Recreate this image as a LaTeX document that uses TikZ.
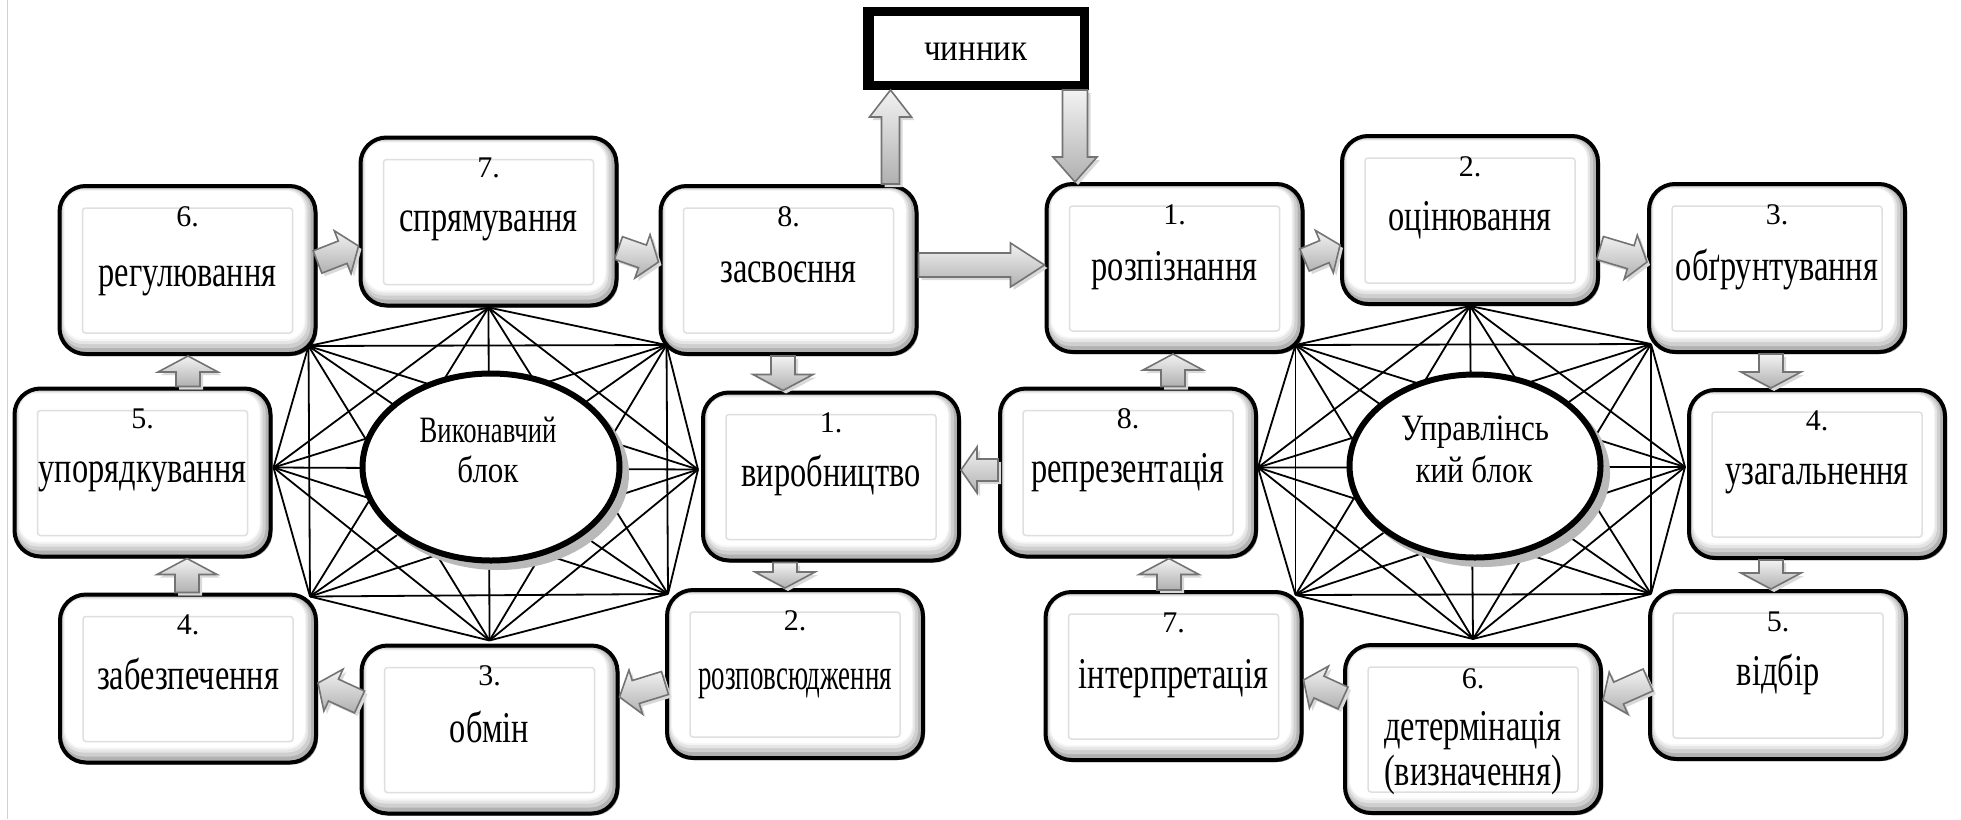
\documentclass[tikz,border=0pt]{standalone}
\usepackage{fontspec}
\setmainfont{Liberation Serif}
\newfontfamily\timesfont{Liberation Serif}
\usepackage{graphicx}
\usetikzlibrary{calc,shapes.geometric,shadows}

% block arrow: #1 from, #2 to, #3 shaft half width, #4 head half width, #5 head length
\newcommand{\blockarr}[5]{%
  \coordinate (ba-a) at (#1);
  \coordinate (ba-b) at (#2);
  \coordinate (ba-h) at ($(ba-b)!#5!(ba-a)$);
  \begin{scope}[transform canvas={shift={(3pt,-3pt)}}]
    \fill[gray!30] ($(ba-a)!#3!90:(ba-b)$) -- ($(ba-h)!#3!-90:(ba-a)$) -- ($(ba-h)!#4!-90:(ba-a)$) -- (ba-b)
      -- ($(ba-h)!#4!90:(ba-a)$) -- ($(ba-h)!#3!90:(ba-a)$) -- ($(ba-a)!#3!-90:(ba-b)$) -- cycle;
  \end{scope}
  \path[barrow] ($(ba-a)!#3!90:(ba-b)$) -- ($(ba-h)!#3!-90:(ba-a)$) -- ($(ba-h)!#4!-90:(ba-a)$) -- (ba-b)
      -- ($(ba-h)!#4!90:(ba-a)$) -- ($(ba-h)!#3!90:(ba-a)$) -- ($(ba-a)!#3!-90:(ba-b)$) -- cycle;
}
\newcommand{\bxlabel}[4]{%
  \node[numt] (#1n) at ([yshift=-42pt]#1.north) {#2};
  \node[wrdt] (#1w) at ([yshift=-#4pt]#1.north) {\scalebox{0.9}[1.22]{#3}};
}

\begin{document}
\begin{tikzpicture}[x=1pt,y=-1pt,
  bx/.style={draw=black, line width=4pt, rounded corners=26pt, fill=gray!60,
    minimum width=256pt, minimum height=168pt, inner sep=0pt,
    drop shadow={shadow xshift=2pt, shadow yshift=-2pt, fill=black, opacity=0.4},
    path picture={
      \fill[gray!38, rounded corners=22pt] ([xshift=2pt,yshift=-2pt]path picture bounding box.north west) rectangle ([xshift=-5pt,yshift=6pt]path picture bounding box.south east);
      \fill[gray!20, rounded corners=20pt] ([xshift=3pt,yshift=-3pt]path picture bounding box.north west) rectangle ([xshift=-8pt,yshift=10pt]path picture bounding box.south east);
      \fill[gray!8, rounded corners=19pt] ([xshift=4pt,yshift=-4pt]path picture bounding box.north west) rectangle ([xshift=-10pt,yshift=13pt]path picture bounding box.south east);
      \fill[white, rounded corners=18pt] ([xshift=5pt,yshift=-5pt]path picture bounding box.north west) rectangle ([xshift=-11pt,yshift=15pt]path picture bounding box.south east);
      \draw[gray!25, line width=1.5pt, rounded corners=3pt] ([xshift=23pt,yshift=-22pt]path picture bounding box.north west) rectangle ([xshift=-23pt,yshift=21pt]path picture bounding box.south east);
    }},
  el/.style={ellipse, draw=black, line width=6pt, fill=white, inner sep=0pt},
  elshadow/.style={gray!55},
  chbox/.style={draw=black, line width=9pt, fill=white, minimum width=217pt, minimum height=74pt, inner sep=0pt},
  barrow/.style={draw=black!55, line width=1.6pt, top color=gray!10, bottom color=gray!62, line join=miter},
  net/.style={black, line width=1.8pt},
  numt/.style={anchor=base, inner sep=0pt, font=\timesfont\fontsize{30}{36}\selectfont},
  wrdt/.style={anchor=base, inner sep=0pt, font=\timesfont\fontsize{36}{43}\selectfont},
  eltxt/.style={anchor=base, inner sep=0pt, font=\timesfont\fontsize{31}{37}\selectfont}
]
\useasboundingbox (0,0) rectangle (1961,819);
\fill[white] (0,0) rectangle (1961,819);
\draw[gray!35, line width=1pt] (7,0) -- (7,819);

% left block boxes
\node[bx] (b6) at (187.5,270) {};
\node[bx] (b7) at (488.5,221.5) {};
\node[bx] (b8) at (788.5,270) {};
\node[bx] (b5) at (142.5,472.5) {};
\node[bx] (b1) at (831,476.5) {};
\node[bx] (b4) at (188,678.5) {};
\node[bx] (b3) at (489.5,729.5) {};
\node[bx] (b2) at (795,674) {};
% right block boxes
\node[bx] (r1) at (1174.5,268) {};
\node[bx] (r2) at (1470,220) {};
\node[bx] (r3) at (1777,268) {};
\node[bx] (r8) at (1128,472.5) {};
\node[bx] (r4) at (1817,474) {};
\node[bx] (r5) at (1778,675) {};
\node[bx] (r7) at (1173.5,676) {};
\node[bx] (r6) at (1473,729) {};

% chinnyk
\node[chbox] (ch) at (976,48.5) {};
\draw[black, line width=2.2pt] ([xshift=9.5pt,yshift=-8pt]ch.north west) rectangle ([xshift=-7pt,yshift=6.5pt]ch.south east);
\node[anchor=base, inner sep=0pt, font=\timesfont\fontsize{33}{40}\selectfont] (cht) at (976,60) {\scalebox{1}[1.15]{чинник}};

% network points, left
\coordinate (L1) at (b7.south);
\coordinate (L2) at ([xshift=8pt,yshift=11pt]b8.south west);
\coordinate (L3) at ([xshift=-3pt,yshift=7pt]b1.west);
\coordinate (L4) at ([xshift=3pt,yshift=-6pt]b2.north west);
\coordinate (L5) at ([yshift=3pt]b3.north);
\coordinate (L6) at ([xshift=-8pt,yshift=-4pt]b4.north east);
\coordinate (L7) at ([xshift=1pt,yshift=5pt]b5.east);
\coordinate (L8) at ([xshift=-9pt,yshift=10pt]b6.south east);
% network points, right
\coordinate (R1) at (r2.south);
\coordinate (R2) at ([xshift=4pt,yshift=10pt]r3.south west);
\coordinate (R3) at ([xshift=-2pt,yshift=7pt]r4.west);
\coordinate (R4) at ([xshift=3pt,yshift=-5pt]r5.north west);
\coordinate (R5) at ([yshift=4pt]r6.north);
\coordinate (R6) at ([xshift=-8pt,yshift=-5pt]r7.north east);
\coordinate (R7) at ([yshift=5pt]r8.east);
\coordinate (R8) at ([xshift=-9pt,yshift=9pt]r1.south east);

\foreach \i in {1,...,8}{
  \foreach \j in {1,...,8}{
    \ifnum\j>\i
      \draw[net] (L\i) -- (L\j);
      \draw[net] (R\i) -- (R\j);
    \fi
  }
}

% ellipse shadows and ellipses
\fill[elshadow] (498,474) ellipse [x radius=131pt, y radius=96pt];
\fill[elshadow] (1482,473) ellipse [x radius=128pt, y radius=94pt];
\node[el, minimum width=257pt, minimum height=187pt] (e1) at (491,467) {};
\node[el, minimum width=251pt, minimum height=183pt] (e2) at (1475,466) {};
\node[eltxt] (e1a) at (488,442) {\scalebox{0.86}[1.2]{Виконавчий}};
\node[eltxt] (e1b) at (488,482) {\scalebox{1}[1.2]{блок}};
\node[eltxt] (e2a) at (1475,440) {\scalebox{1}[1.2]{Управлінсь}};
\node[eltxt] (e2b) at (1474,482) {\scalebox{1}[1.2]{кий блок}};

% box texts
\bxlabel{b6}{6.}{регулювання}{102}
\bxlabel{b7}{7.}{спрямування}{96}
\bxlabel{b8}{8.}{засвоєння}{98}
\bxlabel{b5}{5.}{упорядкування}{96}
\bxlabel{b1}{1.}{виробництво}{96}
\bxlabel{b4}{4.}{забезпечення}{97}
\bxlabel{b3}{3.}{обмін}{99}
\bxlabel{b2}{2.}{\scalebox{0.83}[1]{розповсюдження}}{101}
\bxlabel{r1}{1.}{розпізнання}{98}
\bxlabel{r2}{2.}{оцінювання}{96}
\bxlabel{r3}{3.}{обґрунтування}{98}
\bxlabel{r8}{8.}{репрезентація}{96}
\bxlabel{r4}{4.}{узагальнення}{96}
\bxlabel{r5}{5.}{відбір}{96}
\bxlabel{r7}{7.}{інтерпретація}{98}
\node[numt] (r6n) at ([yshift=-45pt]r6.north) {6.};
\node[wrdt] (r6w) at ([yshift=-97pt]r6.north) {\scalebox{0.9}[1.22]{детермінація}};
\node[wrdt] (r6x) at ([yshift=-142pt]r6.north) {\scalebox{0.9}[1.22]{(визначення)}};

% block arrows, left block
\blockarr{[yshift=8pt]b6.east}{[yshift=-24.5pt]b7.west}{12pt}{23pt}{17pt}
\blockarr{[yshift=-26.5pt]b7.east}{[yshift=8pt]b8.west}{12pt}{23pt}{17pt}
\blockarr{[xshift=-5.5pt]b8.south}{[xshift=-48pt]b1.north}{12pt}{30pt}{16pt}
\blockarr{[xshift=-46pt]b1.south}{[xshift=-10pt]b2.north}{12pt}{30pt}{16pt}
\blockarr{[yshift=-9pt]b2.west}{[yshift=32.5pt]b3.east}{12pt}{23pt}{17pt}
\blockarr{[yshift=27.5pt]b3.west}{[yshift=-4.5pt]b4.east}{12pt}{23pt}{17pt}
\blockarr{[xshift=-1pt]b4.north}{[xshift=44.5pt]b5.south}{12pt}{30pt}{16pt}
\blockarr{[xshift=45.5pt]b5.north}{[xshift=0.5pt]b6.south}{12pt}{30pt}{16pt}
% block arrows, right block
\blockarr{[yshift=8pt]r1.east}{[yshift=-25pt]r2.west}{12pt}{23pt}{17pt}
\blockarr{[yshift=-28pt]r2.east}{[yshift=6pt]r3.west}{12pt}{23pt}{17pt}
\blockarr{[xshift=-6pt]r3.south}{[xshift=-46pt]r4.north}{12pt}{30pt}{16pt}
\blockarr{[xshift=-46pt]r4.south}{[xshift=-7pt]r5.north}{12pt}{30pt}{16pt}
\blockarr{[yshift=-5pt]r5.west}{[yshift=29pt]r6.east}{12pt}{23pt}{17pt}
\blockarr{[yshift=31pt]r6.west}{[yshift=-4pt]r7.east}{12pt}{23pt}{17pt}
\blockarr{[xshift=-4.5pt]r7.north}{[xshift=41pt]r8.south}{12pt}{30pt}{16pt}
\blockarr{[xshift=45pt]r8.north}{[xshift=-1.5pt]r1.south}{12pt}{30pt}{16pt}
% links between blocks
\blockarr{[yshift=2.5pt]r8.west}{[yshift=6.5pt]b1.east}{11pt}{23pt}{16pt}
\blockarr{[yshift=5pt]b8.east}{[yshift=3pt]r1.west}{12pt}{22pt}{34pt}
\blockarr{[xshift=102pt]b8.north}{[xshift=-85.5pt]ch.south}{9pt}{21pt}{27pt}
\blockarr{[xshift=99pt]ch.south}{[xshift=-99.5pt]r1.north}{12.5pt}{22pt}{25pt}
\end{tikzpicture}
\end{document}
